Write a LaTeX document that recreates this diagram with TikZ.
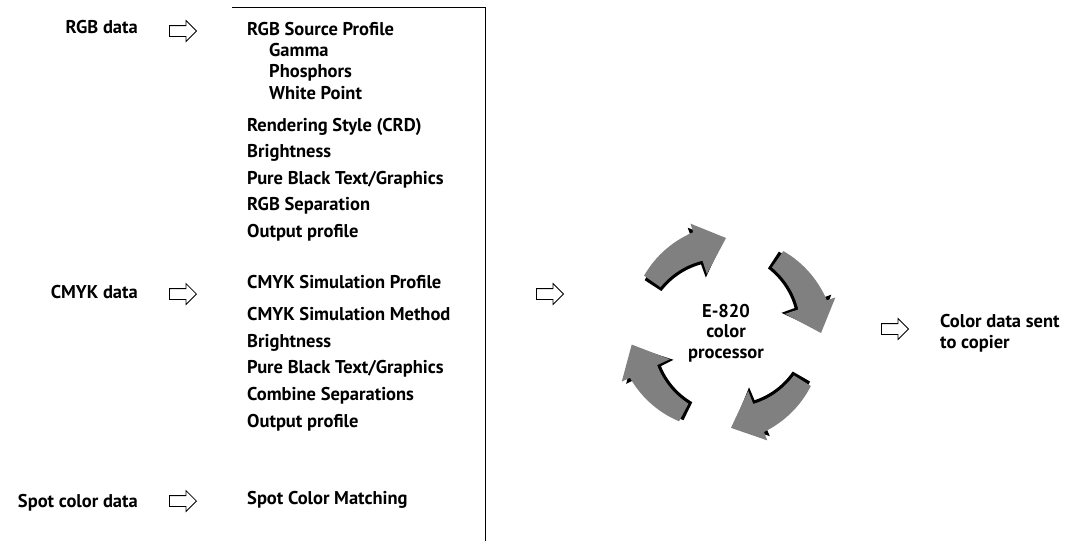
\documentclass[tikz,border=0pt]{standalone}
\usepackage{fontspec}
\setmainfont{PT Sans}
\usetikzlibrary{positioning,shapes.arrows}

\definecolor{arrowgray}{RGB}{128,128,128}

\tikzset{
  txt/.style={inner sep=0pt,font=\bfseries\fontsize{18.5}{20.5}\selectfont},
  item/.style={txt,anchor=base west},
  source/.style={txt,anchor=base east},
  hollow/.style={single arrow,draw=black,fill=white,line width=0.8pt,
    minimum height=27pt,minimum width=20pt,single arrow head extend=5pt,
    inner xsep=0pt,inner ysep=5pt,anchor=tip}
}

% curved arrow of the cycle: tail angle, radial shift, colour
\newcommand\cyclearrow[3]{%
  \fill[#3] plot[domain=#1:#1-37,samples=16] (\x:{100+(#2)+6*((#1)-\x)/37})
    -- ({#1-37}:{115+(#2)}) -- ({#1-55}:{95+(#2)}) -- ({#1-37}:{62+(#2)})
    -- plot[domain=#1-37:#1,samples=16] (\x:{80+(#2)-4*((#1)-\x)/37}) -- cycle;}

\begin{document}
\begin{tikzpicture}[x=1pt,y=-1pt]
\useasboundingbox (0,0) rectangle (1068,541);

% settings panel
\draw[line width=1pt] (232,7) -- (485,7) -- (485,541);

% incoming data
\node[source](rgb) at (138,33){RGB data};
\node[source](cmyk) at (138,298){CMYK data};
\node[source](spot) at (138,507){Spot color data};
\node[hollow](rgbin) at (197,31){};
\node[hollow](cmykin) at (197,294){};
\node[hollow](spotin) at (197,501){};

% RGB settings
\node[item](rgbsrc) at (247,35){RGB Source Profile};
\node[item](gamma) at (269,56.5){Gamma};
\node[item](phos) at (269,77.5){Phosphors};
\node[item](white) at (269,99){White Point};
\node[item](crd) at (247,131){Rendering Style (CRD)};
\node[item](bright1) at (247,157.5){Brightness};
\node[item](pure1) at (247,184){Pure Black Text/Graphics};
\node[item](rgbsep) at (247,210.5){RGB Separation};
\node[item](out1) at (247,237){Output profile};

% CMYK settings
\node[item](cmyksim) at (247,288){CMYK Simulation Profile};
\node[item](cmykmeth) at (247,320){CMYK Simulation Method};
\node[item](bright2) at (247,347){Brightness};
\node[item](pure2) at (247,373){Pure Black Text/Graphics};
\node[item](combine) at (247,400){Combine Separations};
\node[item](out2) at (247,427){Output profile};

% spot settings
\node[item](spotmatch) at (247,504){Spot Color Matching};

% processor
\node[hollow](procin) at (564,294){};
\node[txt,align=center](proc) at (726,333){E-820\\color\\processor};
\begin{scope}[shift={(726,333)},yscale=-1]
\foreach \a in {145,55,-32,-118}{
  \cyclearrow{\a+2}{-3}{black}
  \cyclearrow{\a}{0}{arrowgray}
}
\end{scope}

% output
\node[hollow](procout) at (909,329){};
\node[txt,align=left,anchor=west](copier) at (940,333){Color data sent\\to copier};
\end{tikzpicture}
\end{document}
